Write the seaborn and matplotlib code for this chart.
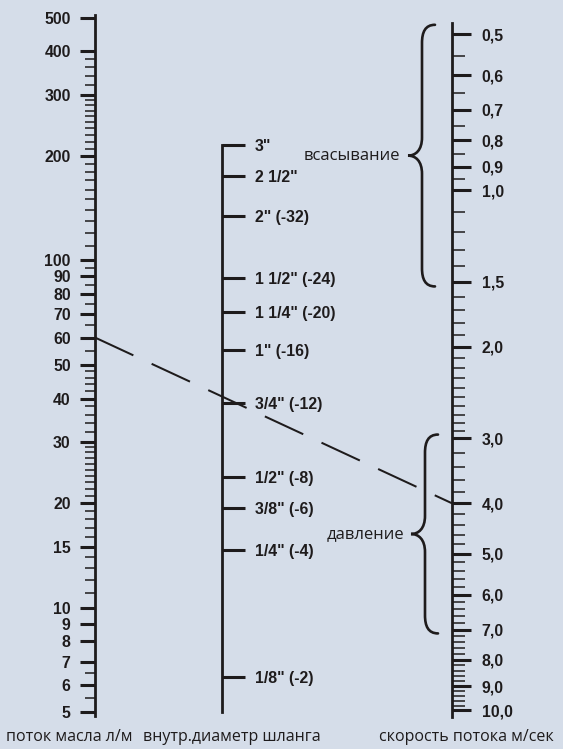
import numpy as np
import matplotlib
matplotlib.use('Agg')
import matplotlib.pyplot as plt
import matplotlib.transforms as mtransforms
import seaborn as sns
from matplotlib.patches import ConnectionPatch, PathPatch
from matplotlib.path import Path
from matplotlib.ticker import NullFormatter, NullLocator

# шкала расхода масла, л/мин
flow_major = [5, 6, 7, 8, 9, 10, 15, 20, 30, 40, 50, 60, 70, 80, 90, 100, 200, 300, 400, 500]
flow_minor = [5.5, 6.5, 11, 12, 13, 14, 16, 17, 18, 19,
              21, 22, 23, 24, 25, 26, 27, 28, 29,
              32, 34, 36, 38, 42, 44, 46, 48, 55, 65, 75, 85, 95,
              110, 120, 130, 140, 150, 160, 170, 180, 190,
              210, 220, 230, 240, 250, 260, 270, 280, 290,
              320, 340, 360, 380]

# внутренний диаметр шланга (условный, мм)
hose_labels = ['3"', '2 1/2"', '2" (-32)', '1 1/2" (-24)', '1 1/4" (-20)', '1" (-16)',
               '3/4" (-12)', '1/2" (-8)', '3/8" (-6)', '1/4" (-4)', '1/8" (-2)']
hose_diam = [76.2, 63.3, 49.8, 34.4, 28.1, 22.4, 16.3, 10.5, 8.7, 6.76, 3.175]

# скорость потока, м/сек
speed_major = [0.5, 0.6, 0.7, 0.8, 0.9, 1.0, 1.5, 2.0, 3.0, 4.0, 5.0, 6.0, 7.0, 8.0, 9.0, 10.0]
speed_labels = ['0,5', '0,6', '0,7', '0,8', '0,9', '1,0', '1,5', '2,0', '3,0', '4,0',
                '5,0', '6,0', '7,0', '8,0', '9,0', '10,0']
speed_minor = [0.55, 0.65, 0.75, 0.85, 0.95, 1.1, 1.2, 1.3, 1.4, 1.6, 1.7, 1.8, 1.9,
               2.1, 2.2, 2.3, 2.4, 2.5, 2.6, 2.7, 2.8, 2.9,
               3.2, 3.4, 3.6, 3.8, 4.2, 4.4, 4.6, 4.8, 5.2, 5.4, 5.6, 5.8,
               6.2, 6.4, 6.6, 6.8, 7.2, 7.4, 7.6, 7.8, 8.2, 8.4, 8.6, 8.8,
               9.2, 9.4, 9.6, 9.8]

# пример: 60 л/мин -> 4,0 м/сек
example_flow = 60
example_speed = 4.0

# зоны скоростей
suction_range = (0.48, 1.53)
pressure_range = (2.95, 7.12)

BG = '#d5dde9'
INK = '#1e1b1c'

sns.set_style('white')
plt.rcParams['font.family'] = ['Liberation Sans', 'DejaVu Sans']

W, H = 563, 749
fig = plt.figure(figsize=(W / 100, H / 100), dpi=100)
fig.patch.set_facecolor(BG)

bottom = 29 / H
height = 710 / H

axL = fig.add_axes([95 / W, bottom, 60 / W, height])
axM = fig.add_axes([222 / W, bottom, 100 / W, height])
axR = fig.add_axes([452 / W, bottom, 100 / W, height])

tick_font = dict(fontsize=11.4, fontweight='bold', color=INK)
text_family = ['Open Sans', 'DejaVu Sans']

for ax in (axL, axM, axR):
    ax.set_facecolor('none')
    ax.set_xticks([])
    ax.set_yscale('log')
    for s in ax.spines.values():
        s.set_visible(False)

# --- левая шкала: поток
sns.despine(ax=axL, top=True, right=True, bottom=True, left=False)
axL.spines['left'].set_visible(True)
axL.spines['left'].set_linewidth(2.0)
axL.spines['left'].set_color(INK)
axL.set_ylim(4.75, 526.5)
axL.spines['left'].set_bounds(4.87, 510)
axL.set_yticks(flow_major, labels=[str(v) for v in flow_major])
axL.set_yticks(flow_minor, minor=True)
axL.yaxis.set_minor_formatter(NullFormatter())
axL.tick_params(axis='y', which='both', left=True, right=False)
axL.tick_params(axis='y', which='major', direction='out', length=11, width=2.2,
                color=INK, pad=6.5)
axL.tick_params(axis='y', which='minor', direction='out', length=7, width=1.1, color=INK)
for lab in axL.get_yticklabels():
    lab.set(**tick_font)

# --- средняя шкала: диаметр шланга
axM.spines['right'].set_visible(True)
axM.spines['right'].set_position(('axes', 0))
axM.spines['right'].set_linewidth(2.0)
axM.spines['right'].set_color(INK)
axM.yaxis.tick_right()
axM.set_ylim(2.45, 170.9)
axM.spines['right'].set_bounds(2.57, 76.2)
axM.set_yticks(hose_diam, labels=hose_labels)
axM.yaxis.set_minor_locator(NullLocator())
axM.tick_params(axis='y', which='major', direction='out', length=16.5, width=2.2,
                color=INK, pad=7)
for lab in axM.get_yticklabels():
    lab.set(**tick_font)

# --- правая шкала: скорость
axR.spines['right'].set_visible(True)
axR.spines['right'].set_position(('axes', 0))
axR.spines['right'].set_linewidth(2.0)
axR.spines['right'].set_color(INK)
axR.yaxis.tick_right()
axR.set_ylim(10.45, 0.4495)
axR.spines['right'].set_bounds(0.476, 10.31)
axR.set_yticks(speed_major, labels=speed_labels)
axR.set_yticks(speed_minor, minor=True)
axR.yaxis.set_minor_formatter(NullFormatter())
axR.tick_params(axis='y', which='major', direction='out', length=14, width=2.2,
                color=INK, pad=7.5)
axR.tick_params(axis='y', which='minor', direction='out', length=9, width=1.1, color=INK)
for lab in axR.get_yticklabels():
    lab.set(**tick_font)

# --- пунктирная линия примера
con = ConnectionPatch(xyA=(0, example_flow), coordsA='data', axesA=axL,
                      xyB=(0, example_speed), coordsB='data', axesB=axR,
                      color=INK, lw=1.45, linestyle=(0, (21, 10)),
                      shrinkA=0, shrinkB=0, capstyle='butt')
fig.add_artist(con)


def skobka(ax, v_top, v_bot, x_end, x_col, x_tip, curl=0.035):
    # фигурная скобка слева от шкалы (x в долях осей, y в данных)
    lt, lb = np.log10(v_top), np.log10(v_bot)
    lm = (lt + lb) / 2
    e, c, t = x_end, x_col, x_tip
    pts = [
        (e, lt),
        (c + 0.25 * (e - c), lt), (c, lt + 0.4 * curl), (c, lt + curl),
        (c, lm - curl),
        (c, lm - 0.3 * curl), (c - 0.45 * (c - t), lm), (t, lm),
        (c - 0.45 * (c - t), lm), (c, lm + 0.3 * curl), (c, lm + curl),
        (c, lb - curl),
        (c, lb - 0.4 * curl), (c + 0.25 * (e - c), lb), (e, lb),
    ]
    codes = [Path.MOVETO,
             Path.CURVE4, Path.CURVE4, Path.CURVE4,
             Path.LINETO,
             Path.CURVE4, Path.CURVE4, Path.CURVE4,
             Path.CURVE4, Path.CURVE4, Path.CURVE4,
             Path.LINETO,
             Path.CURVE4, Path.CURVE4, Path.CURVE4]
    verts = [(x, 10 ** y) for x, y in pts]
    tr = mtransforms.blended_transform_factory(ax.transAxes, ax.transData)
    patch = PathPatch(Path(verts, codes), transform=tr, fill=False,
                      edgecolor=INK, lw=1.9, clip_on=False, capstyle='round')
    ax.add_patch(patch)
    return tr, 10 ** lm


tr, v_mid = skobka(axR, *suction_range, x_end=-0.17, x_col=-0.30, x_tip=-0.44)
axR.text(-0.52, v_mid, 'всасывание', transform=tr, ha='right', va='center',
         fontsize=12, family=text_family, color=INK)
tr, v_mid = skobka(axR, *pressure_range, x_end=-0.14, x_col=-0.27, x_tip=-0.41)
axR.text(-0.48, v_mid, 'давление', transform=tr, ha='right', va='center',
         fontsize=12, family=text_family, color=INK)

# --- подписи шкал
bottom_font = dict(fontsize=11.5, family=text_family, color=INK,
                   ha='center', va='center')
fig.text(69 / W, 1 - 737 / H, 'поток масла л/м', **bottom_font)
fig.text(232 / W, 1 - 737 / H, 'внутр.диаметр шланга', **bottom_font)
fig.text(466 / W, 1 - 737 / H, 'скорость потока м/сек', **bottom_font)

fig.savefig('out.png', dpi=100, facecolor=BG)
